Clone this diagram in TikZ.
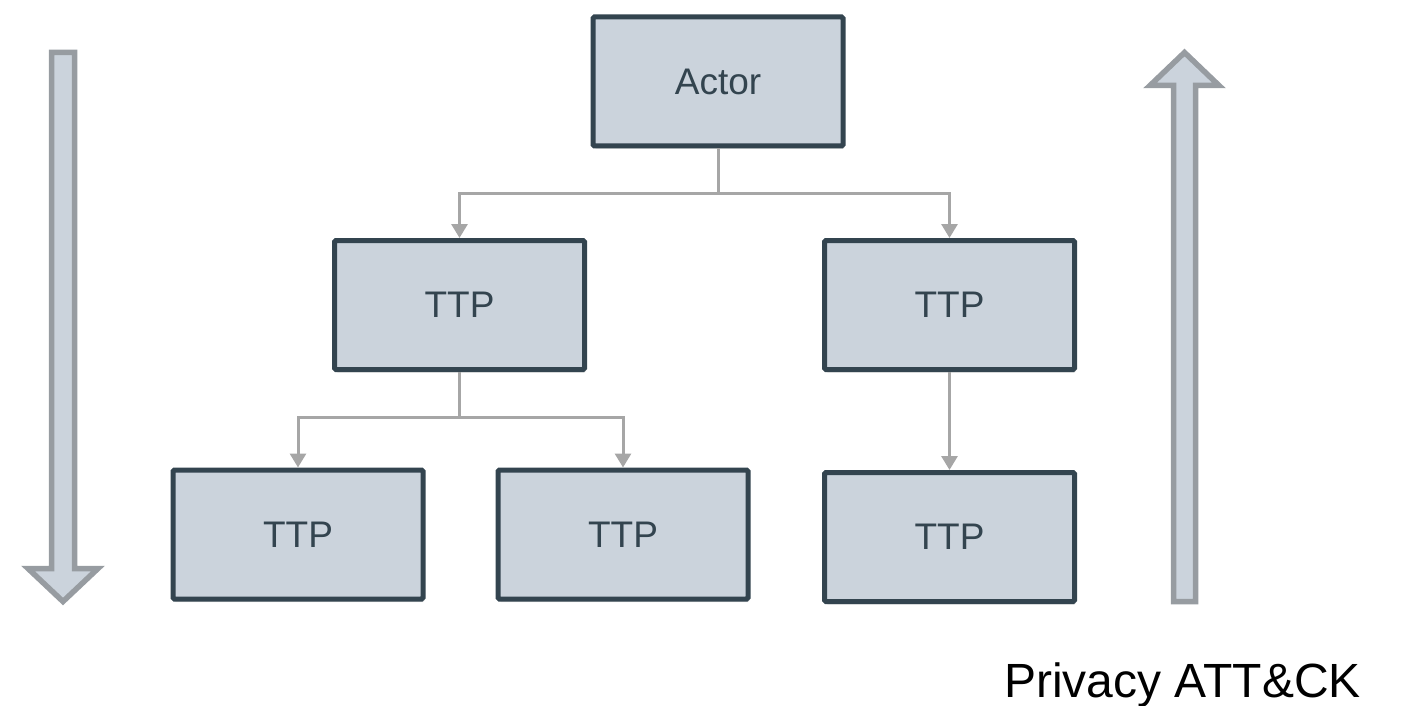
\documentclass[tikz,border=0pt]{standalone}
\usepackage{fontspec}
\setmainfont{Liberation Sans}
\usetikzlibrary{positioning,arrows.meta,shadows}

\definecolor{boxfill}{HTML}{CBD3DC}
\definecolor{boxline}{HTML}{33444F}
\definecolor{linkgray}{HTML}{A6A6A6}
\definecolor{flowgray}{HTML}{979CA1}

\begin{document}
\begin{tikzpicture}[x=1pt, y=-1pt,
	ttp/.style = {draw=boxline, line width=5pt, fill=boxfill, rounded corners=1.5pt,
		minimum width=250pt, minimum height=129pt, text=boxline,
		font=\fontsize{37}{44}\selectfont,
		drop shadow={shadow xshift=1.5pt, shadow yshift=-3pt, opacity=0.2}},
	link/.style = {draw=linkgray, line width=3pt, -{Triangle[width=16pt,length=14pt]}},
	flow/.style = {draw=flowgray, fill=boxfill, line width=5.5pt, line join=miter}]
	\useasboundingbox (0,0) rectangle (1406,706);

		% tree of boxes
		\node[ttp] (actor) at (718,81.5) {Actor};
		\node[ttp] (ttpL) at (459.5,305) {TTP};
		\node[ttp] (ttpR) at (949.5,305) {TTP};
		\node[ttp] (leaf1) at (298,534.5) {TTP};
		\node[ttp] (leaf2) [right=70pt of leaf1] {TTP};
		\node[ttp] (leaf3) [below=98pt of ttpR] {TTP};

		\draw[link] (actor.south) -- ++(0,45) -| (ttpL.north);
		\draw[link] (actor.south) -- ++(0,45) -| (ttpR.north);
		\draw[link] (ttpL.south) -- ++(0,45) -| (leaf1.north);
		\draw[link] (ttpL.south) -- ++(0,45) -| (leaf2.north);
		\draw[link] (ttpR.south) -- (leaf3.north);

		% big arrows at the sides
		\path[flow] (51.5,52.5) -- (74.5,52.5) -- (74.5,568.5) -- (98,568.5)
			-- (63,601.5) -- (28,568.5) -- (51.5,568.5) -- cycle;
		\path[flow] (1173.5,601.5) -- (1195.5,601.5) -- (1195.5,85.5) -- (1219,85.5)
			-- (1184.5,52.5) -- (1150,85.5) -- (1173.5,85.5) -- cycle;

		\node[anchor=base west, inner sep=0pt, font=\fontsize{48}{57}\selectfont]
			(title) at (1004,697) {Privacy ATT\&CK};

	\end{tikzpicture}
\end{document}
